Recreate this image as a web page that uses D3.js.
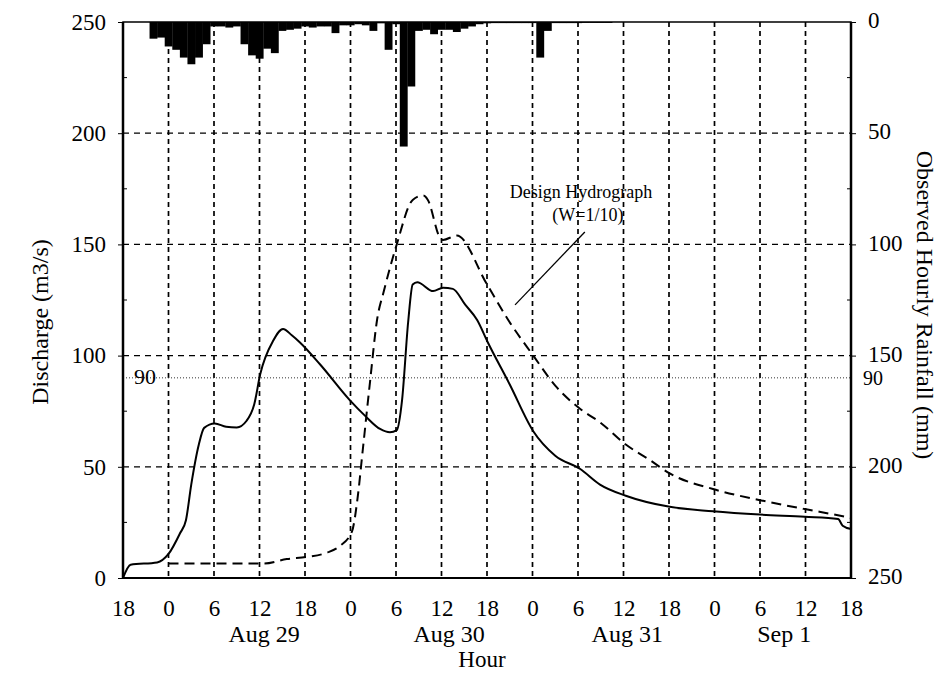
<!DOCTYPE html>
<html>
<head>
<meta charset="utf-8">
<script src="https://cdn.jsdelivr.net/npm/d3@7"></script>
<style>
  body { margin: 0; background: #fff; }
  svg text { font-family: "Liberation Serif", "DejaVu Serif", serif; fill: #000; }
</style>
</head>
<body>
<div class="chart"></div>
<script>
// hour 0 = Aug 28 18:00, 96 hours shown
var hourTicks = [18, 0, 6, 12, 18, 0, 6, 12, 18, 0, 6, 12, 18, 0, 6, 12, 18];
var dayLabels = ['Aug 29', 'Aug 30', 'Aug 31', 'Sep 1'];
var dayLabelHour = [18.6, 43, 66.5, 87.2];

// observed hourly rainfall (mm), first value at hour 4
var rainStart = 4;
var rainMm = [7.5, 7, 11, 12.5, 16, 19, 16, 10, 2, 2, 2.5, 2, 10, 15, 16.5, 12, 14,
    4, 3.5, 3, 2, 2.5, 2, 2, 5, 1.5, 1.5, 1, 1.5, 4, 0.6, 12.5, 1, 56, 29,
    4, 3.5, 5.5, 3.5, 3.5, 4.5, 3, 2, 1, 0.6, 0.5, 0.5, 0.5, 0.5, 0.5, 0.5,
    16, 4, 0.5, 0.5, 0.5, 0.5, 0.4, 0.4, 0.4, 0.4];

// observed discharge (m3/s)
var obsHour = [0, 1, 4.5, 6, 7.5, 8.3, 9, 10, 10.7, 12.1, 13.6, 15, 16.3, 17.3, 18.1, 19.8,
    21.1, 22.3, 23.3, 26, 29.9, 31.9, 33.9, 35.2, 36.1, 36.8, 37.6, 38.2, 38.8, 40.9,
    42.2, 43.5, 45.1, 46.7, 48.1, 51, 54.1, 57, 60.3, 62.9, 66.3, 72.1, 77.8, 84, 89.9,
    94.3, 94.9, 96];
var obsQ = [0, 6, 7, 10.8, 20, 26, 42, 60, 67.5, 69.5, 68, 67.7, 70.7, 78, 91.7, 106.7,
    112, 109, 106, 96, 80, 73, 67, 65.5, 66.5, 80, 115, 132, 133, 129,
    130.5, 130, 123, 116, 106, 87, 66, 55, 49, 42, 37, 32, 30, 28.5, 27.5,
    26.5, 23.5, 22];

// design hydrograph W=1/10 (m3/s)
var designHour = [6, 18.5, 21.6, 24.3, 26.9, 28.6, 30.2, 30.9, 31.6, 32.6, 33.5, 34.4,
    36.1, 38.2, 39.6, 40.2, 41.8, 42.2, 44, 48, 50.8, 54.1, 57, 60.3, 62.9, 66.3,
    69.5, 72.1, 77.8, 84, 89.9, 94.6, 96];
var designQ = [6.5, 6.5, 8.5, 9.5, 11.4, 14.4, 21, 35, 57, 89, 116, 129,
    150, 170, 172, 170, 153, 152, 154, 132, 116, 100, 86.5, 76, 70, 60,
    53, 47, 40, 35, 31, 28, 27];

var qTicks = [0, 50, 100, 150, 200, 250];
var rainTicks = [0, 50, 100, 150, 200, 250];
var refLevel = 90;

var width = 941, height = 674;
var plotLeft = 123, plotRight = 851, plotTop = 22, plotBottom = 578;

var svg = d3.select('.chart').append('svg')
    .attr('width', width)
    .attr('height', height);

var x = d3.scaleLinear().domain([0, 96]).range([plotLeft, plotRight]);
var yQ = d3.scaleLinear().domain([0, 250]).range([plotBottom, plotTop]);
var yR = d3.scaleLinear().domain([0, 250]).range([plotTop, plotBottom]);

// rainfall bars hanging from the top
svg.append('g').selectAll('rect')
    .data(rainMm)
    .enter().append('rect')
    .attr('x', function(d, i) { return x(rainStart + i - 0.5); })
    .attr('width', function(d, i) { return x(rainStart + i + 0.5) - x(rainStart + i - 0.5) + 0.3; })
    .attr('y', yR(0))
    .attr('height', function(d) { return yR(d) - yR(0); })
    .attr('fill', '#000');

// grid
var grid = svg.append('g');
grid.selectAll('.vgrid')
    .data(d3.range(6, 96, 6))
    .enter().append('line')
    .attr('x1', function(d) { return x(d); })
    .attr('x2', function(d) { return x(d); })
    .attr('y1', plotTop)
    .attr('y2', plotBottom)
    .attr('stroke', '#000')
    .attr('stroke-width', 1.7)
    .attr('stroke-dasharray', '5,4');

grid.selectAll('.hgrid')
    .data(qTicks.slice(1, -1))
    .enter().append('line')
    .attr('x1', plotLeft)
    .attr('x2', plotRight)
    .attr('y1', function(d) { return yQ(d); })
    .attr('y2', function(d) { return yQ(d); })
    .attr('stroke', '#000')
    .attr('stroke-width', 1.3)
    .attr('stroke-dasharray', '6,5');

grid.append('line')
    .attr('x1', plotLeft).attr('x2', plotRight)
    .attr('y1', yQ(refLevel)).attr('y2', yQ(refLevel))
    .attr('stroke', '#333')
    .attr('stroke-width', 1)
    .attr('stroke-dasharray', '1,2');

// hydrographs
var qLine = d3.line()
    .x(function(d) { return x(d[0]); })
    .y(function(d) { return yQ(d[1]); })
    .curve(d3.curveMonotoneX);

svg.append('path')
    .datum(d3.zip(designHour, designQ))
    .attr('d', qLine)
    .attr('fill', 'none')
    .attr('stroke', '#000')
    .attr('stroke-width', 2)
    .attr('stroke-dasharray', '10,6');

svg.append('path')
    .datum(d3.zip(obsHour, obsQ))
    .attr('d', qLine)
    .attr('fill', 'none')
    .attr('stroke', '#000')
    .attr('stroke-width', 2);

// frame
svg.append('rect')
    .attr('x', plotLeft).attr('y', plotTop)
    .attr('width', plotRight - plotLeft).attr('height', plotBottom - plotTop)
    .attr('fill', 'none')
    .attr('stroke', '#000')
    .attr('stroke-width', 1.5);
svg.append('line')
    .attr('x1', plotLeft).attr('x2', plotLeft).attr('y1', plotTop).attr('y2', plotBottom)
    .attr('stroke', '#000').attr('stroke-width', 2.5);
svg.append('line')
    .attr('x1', plotRight).attr('x2', plotRight).attr('y1', plotTop).attr('y2', plotBottom)
    .attr('stroke', '#000').attr('stroke-width', 2.5);
svg.append('line')
    .attr('x1', plotLeft).attr('x2', plotRight).attr('y1', plotBottom).attr('y2', plotBottom)
    .attr('stroke', '#000').attr('stroke-width', 2);

// axes
var axisLeft = d3.axisLeft(yQ).tickValues(qTicks).tickSize(5).tickPadding(12);
var gl = svg.append('g').attr('transform', 'translate(' + plotLeft + ',0)').call(axisLeft);
var axisRight = d3.axisRight(yR).tickValues(rainTicks).tickSize(5).tickPadding(12);
var gr = svg.append('g').attr('transform', 'translate(' + plotRight + ',0)').call(axisRight);
var axisBottom = d3.axisBottom(x).tickValues(d3.range(0, 97, 6))
    .tickFormat(function(d, i) { return hourTicks[i]; })
    .tickSize(0).tickPadding(22);
var gb = svg.append('g').attr('transform', 'translate(0,' + plotBottom + ')').call(axisBottom);

[gl, gr, gb].forEach(function(g) {
    g.select('.domain').remove();
    g.selectAll('text').style('font-family', '"Liberation Serif", serif').style('font-size', '23px');
});

// right axis labels sit a little above their ticks so the 90 fits below 150
gr.selectAll('text').attr('dy', '0.25em');

// minor inward ticks
svg.append('g').selectAll('line')
    .data(d3.range(25, 250, 50))
    .enter().append('line')
    .attr('x1', plotLeft).attr('x2', plotLeft + 4)
    .attr('y1', function(d) { return yQ(d); })
    .attr('y2', function(d) { return yQ(d); })
    .attr('stroke', '#000').attr('stroke-width', 1);
svg.append('g').selectAll('line')
    .data(d3.range(25, 250, 50))
    .enter().append('line')
    .attr('x1', plotRight).attr('x2', plotRight - 4)
    .attr('y1', function(d) { return yR(d); })
    .attr('y2', function(d) { return yR(d); })
    .attr('stroke', '#000').attr('stroke-width', 1);

// day labels
svg.append('g').selectAll('text')
    .data(dayLabels)
    .enter().append('text')
    .attr('x', function(d, i) { return x(dayLabelHour[i]); })
    .attr('y', 642)
    .attr('text-anchor', 'middle')
    .style('font-size', '24px')
    .text(function(d) { return d; });

svg.append('text')
    .attr('x', 482).attr('y', 667)
    .attr('text-anchor', 'middle')
    .style('font-size', '23px')
    .text('Hour');

// 90 labels
svg.append('text')
    .attr('x', plotLeft + 11).attr('y', yQ(refLevel) + 6)
    .style('font-size', '22px')
    .text(refLevel);
svg.append('text')
    .attr('x', plotRight + 12).attr('y', yQ(refLevel) + 7)
    .style('font-size', '20px')
    .text(refLevel);

// axis titles
svg.append('text')
    .attr('transform', 'translate(48,322) rotate(-90)')
    .attr('text-anchor', 'middle')
    .style('font-size', '24px')
    .text('Discharge (m3/s)');
svg.append('text')
    .attr('transform', 'translate(917,305) rotate(90)')
    .attr('text-anchor', 'middle')
    .style('font-size', '24px')
    .text('Observed Hourly Rainfall (mm)');

// annotation
svg.append('text')
    .attr('x', x(60.4)).attr('y', yQ(171))
    .attr('text-anchor', 'middle')
    .style('font-size', '18px')
    .text('Design Hydrograph');
svg.append('text')
    .attr('x', x(61.3)).attr('y', yQ(160.5))
    .attr('text-anchor', 'middle')
    .style('font-size', '18px')
    .text('(W=1/10)');
svg.append('line')
    .attr('x1', x(51.7)).attr('y1', yQ(122.8))
    .attr('x2', x(60.9)).attr('y2', yQ(155.6))
    .attr('stroke', '#000')
    .attr('stroke-width', 1.3);
</script>
</body>
</html>
